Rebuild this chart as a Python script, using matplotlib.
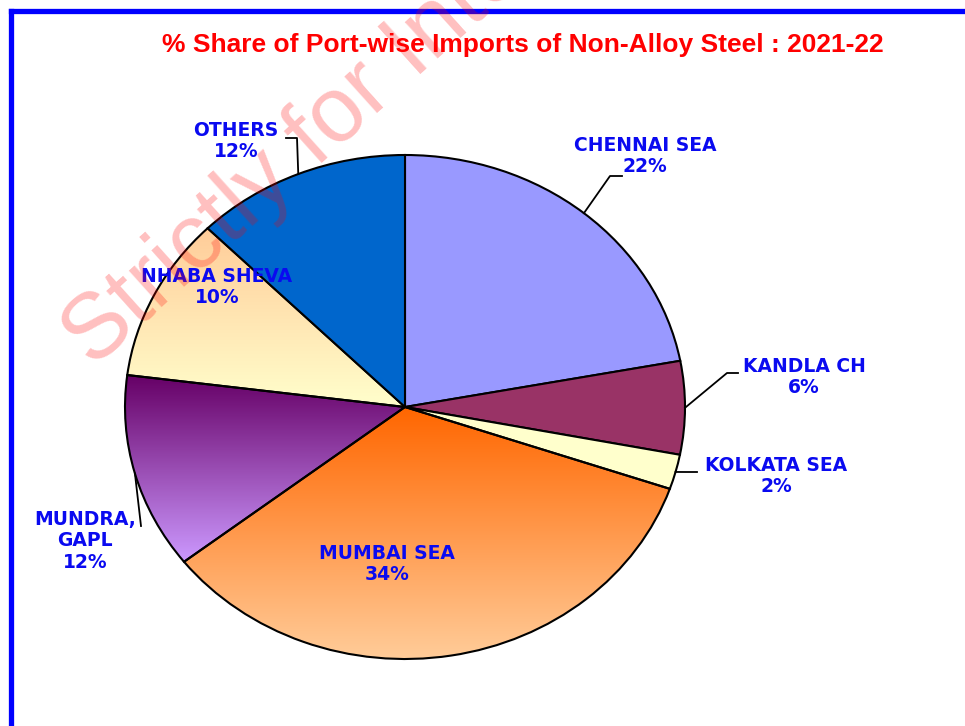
import numpy as np
import matplotlib
matplotlib.use("Agg")
import matplotlib.pyplot as plt
from matplotlib.colors import to_rgb
from matplotlib.lines import Line2D

# Port-wise import shares (%), clockwise from 12 o'clock
ports = ["CHENNAI SEA", "KANDLA CH", "KOLKATA SEA", "MUMBAI SEA",
         "MUNDRA,\nGAPL", "NHABA SHEVA", "OTHERS"]
shares = [21.8, 5.9, 2.2, 33.8, 12.4, 10.4, 12.3]

W, H = 965, 726
fig = plt.figure(figsize=(W / 100, H / 100), dpi=100)

# pie centre / radii in pixels (the pie is drawn slightly wider than tall)
CX, CY, RX, RY = 405, 407, 280, 252
ax = fig.add_axes([(CX - RX) / W, 1 - (CY + RY) / H, 2 * RX / W, 2 * RY / H])


def px2data(px, py):
    return ((px - CX) / RX, (CY - py) / RY)


flat_colors = ["#9999FF", "#993366", "#FFFFCC", None, None, None, "#0066CC"]
gradients = {3: ("#FF6600", "#FFCC99"),   # Mumbai: orange -> peach
             4: ("#660066", "#CC99FF"),   # Mundra: plum -> lilac
             5: ("#FFCC99", "#FFFFCC")}   # Nhaba: peach -> cream

wedges, _ = ax.pie(shares, startangle=90, counterclock=False, radius=1,
                   colors=[c if c else "none" for c in flat_colors],
                   wedgeprops=dict(edgecolor="black", linewidth=1.5))
ax.set_aspect("auto")
ax.set_xlim(-1, 1)
ax.set_ylim(-1, 1)
ax.axis("off")

for i, (top, bot) in gradients.items():
    w = wedges[i]
    ext = w.get_path().get_extents()
    t = np.linspace(0, 1, 256)[:, None]
    img = (1 - t) * np.array(to_rgb(top)) + t * np.array(to_rgb(bot))
    im = ax.imshow(img[:, None, :], extent=(ext.x0, ext.x1, ext.y0, ext.y1),
                   origin="upper", aspect="auto", interpolation="bilinear",
                   zorder=0.5)
    im.set_clip_path(w)
    w.set_zorder(1)
ax.set_xlim(-1, 1)
ax.set_ylim(-1, 1)

# label text centres (px) and leader line bends (px) per slice
label_pos = [(645, 156), (804, 377), (776, 476), (387, 564),
             (85, 541), (217, 287), (236, 141)]
leaders = {0: [(610, 176), (622, 176)],
           1: [(727, 373), (738, 373)],
           2: [(686, 472), (697, 472)],
           4: [(141, 526)],
           6: [(297, 138), (286, 138)]}

label_color = "#0A0AF0"
for i, (name, val) in enumerate(zip(ports, shares)):
    lx, ly = px2data(*label_pos[i])
    ax.text(lx, ly, f"{name}\n{val:.0f}%", ha="center", va="center",
            fontsize=13.5, fontweight="bold", color=label_color,
            family="DejaVu Sans", linespacing=1.15, zorder=5)
    if i in leaders:
        w = wedges[i]
        mid = np.deg2rad((w.theta1 + w.theta2) / 2)
        xs = [np.cos(mid)]
        ys = [np.sin(mid)]
        for p in leaders[i]:
            dx, dy = px2data(*p)
            xs.append(dx)
            ys.append(dy)
        ax.plot(xs, ys, color="black", lw=1.3, zorder=4, clip_on=False)

fig.text(523 / W, 1 - 52 / H,
         "% Share of Port-wise Imports of Non-Alloy Steel : 2021-22",
         ha="center", va="baseline", color="#FF0000", fontsize=19,
         fontweight="bold", family=["Liberation Sans Narrow", "Liberation Sans"])

# blue frame along the top and left edges
fig.add_artist(Line2D([10.5 / W, 10.5 / W], [0, 1 - 10.5 / H],
                      transform=fig.transFigure, color="#0000FF", lw=3.8,
                      solid_capstyle="projecting"))
fig.add_artist(Line2D([10.5 / W, 1], [1 - 10.5 / H, 1 - 10.5 / H],
                      transform=fig.transFigure, color="#0000FF", lw=3.8,
                      solid_capstyle="projecting"))

# watermark
fig.text(93 / W, 1 - 369 / H, "Strictly for Internal Use", rotation=42,
         rotation_mode="anchor", ha="left", va="baseline", color="#FF0000",
         alpha=0.25, fontsize=66, family="Liberation Sans", zorder=10)

fig.savefig("out.png", dpi=100, facecolor="white")
